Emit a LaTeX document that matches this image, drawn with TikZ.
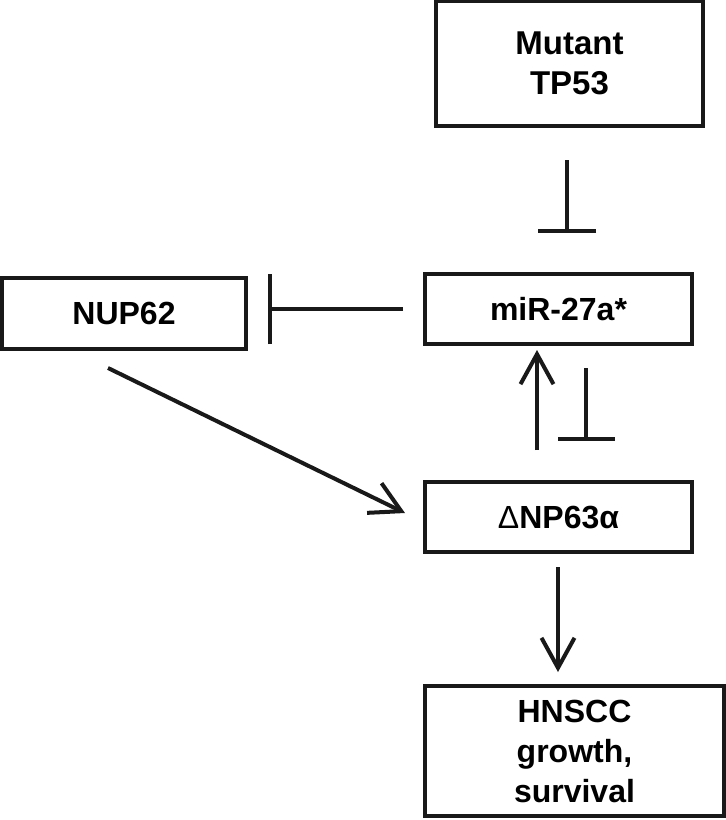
\documentclass[tikz,border=0pt]{standalone}
\usepackage{fontspec}
\setmainfont{Liberation Sans}
\usetikzlibrary{arrows.meta}
\begin{document}
\begin{tikzpicture}[x=1pt,y=-1pt,
  box/.style={draw=black!90, line width=4pt, inner sep=0pt, align=center,
    font=\fontsize{32}{40}\selectfont\bfseries},
  conn/.style={line width=4pt, draw=black!90},
  act/.style={conn, -{Straight Barb[length=30pt,width=33pt,line width=4pt]}},
  inhbar/.style={conn, -{Bar[width=#1,line width=4pt]}},
]
\useasboundingbox (0,0) rectangle (726,820);
\fill[white] (0,0) rectangle (726,820);

\node[box, minimum width=267pt, minimum height=125pt, font=\fontsize{33}{40}\selectfont\bfseries] (tp53) at (569.5,63.5) {Mutant\\TP53};
\node[box, minimum width=244pt, minimum height=71pt] (nup) at (124,313.5) {NUP62};
\node[box, minimum width=267pt, minimum height=70pt] (mir) at (558.5,309) {miR-27a*};
\node[box, minimum width=267pt, minimum height=70pt] (dnp) at (558.5,517) {{\mdseries Δ}NP63α};
\node[box, minimum width=299pt, minimum height=130pt] (hn) at (574.5,751) {HNSCC\\growth,\\survival};

% Mutant TP53 inhibits miR-27a*
\coordinate (a1) at (567,160);
\coordinate (a2) at (567,233);
\draw[inhbar=58pt] (a1) -- (a2);

% miR-27a* inhibits NUP62
\coordinate (b1) at (403,309);
\coordinate (b2) at (268,309);
\draw[inhbar=70pt] (b1) -- (b2);

% NUP62 activates dNP63a
\coordinate (c1) at (108,368);
\coordinate (c2) at (405,513);
\draw[act] (c1) -- (c2);

% dNP63a activates miR-27a*
\coordinate (d1) at (537,450);
\coordinate (d2) at (537,350);
\draw[act] (d1) -- (d2);

% miR-27a* inhibits dNP63a
\coordinate (e1) at (586,368);
\coordinate (e2) at (586,441);
\draw[inhbar=57pt] (e1) -- (e2);

% dNP63a to HNSCC
\coordinate (f1) at (558,567);
\coordinate (f2) at (558,672);
\draw[act] (f1) -- (f2);
\end{tikzpicture}
\end{document}
